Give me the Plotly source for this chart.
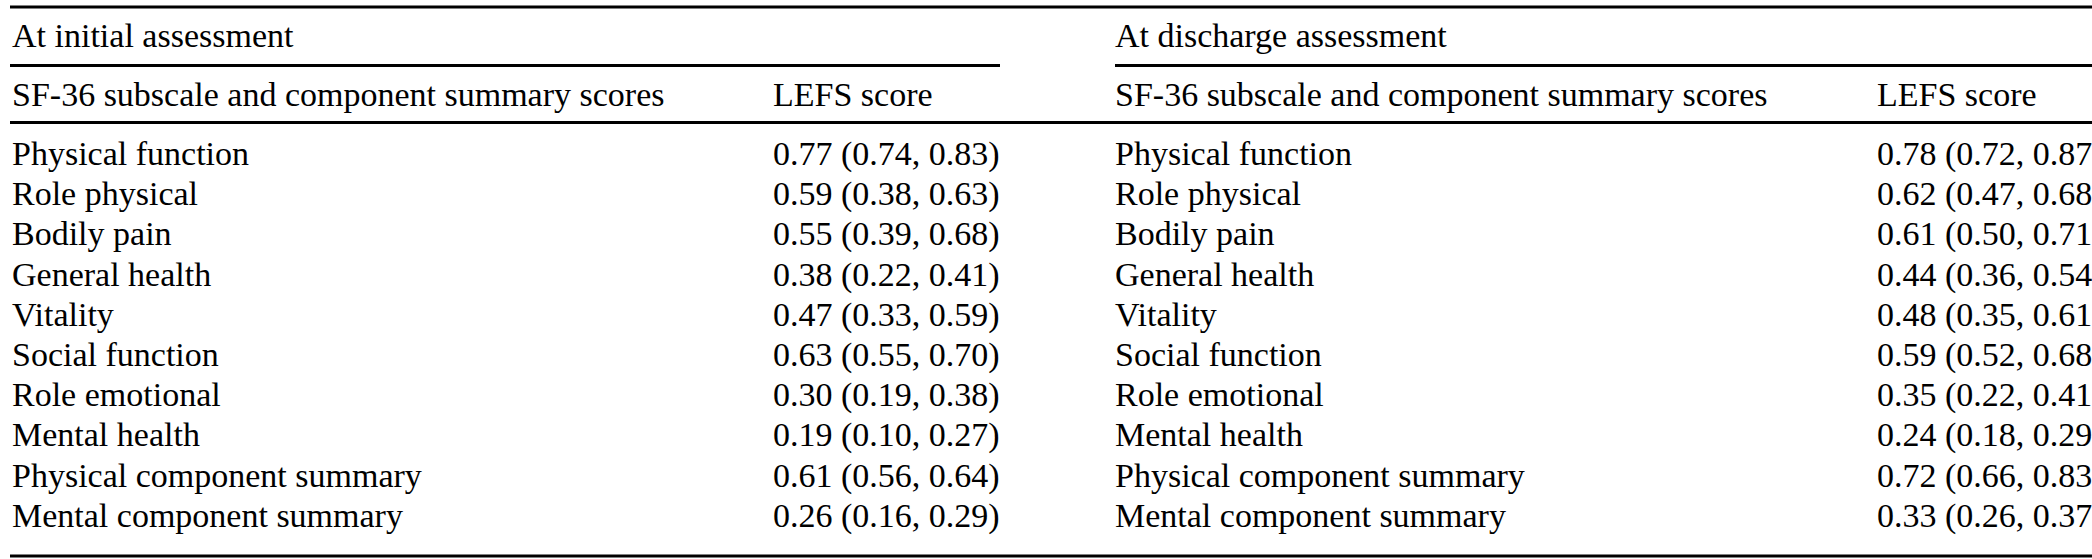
import plotly.graph_objects as go

# ---- table content -------------------------------------------------------
group_titles = ["At initial assessment", "At discharge assessment"]
col_headers = ["SF-36 subscale and component summary scores", "LEFS score"]

subscales = [
    "Physical function",
    "Role physical",
    "Bodily pain",
    "General health",
    "Vitality",
    "Social function",
    "Role emotional",
    "Mental health",
    "Physical component summary",
    "Mental component summary",
]

initial_r = [0.77, 0.59, 0.55, 0.38, 0.47, 0.63, 0.30, 0.19, 0.61, 0.26]
initial_lo = [0.74, 0.38, 0.39, 0.22, 0.33, 0.55, 0.19, 0.10, 0.56, 0.16]
initial_hi = [0.83, 0.63, 0.68, 0.41, 0.59, 0.70, 0.38, 0.27, 0.64, 0.29]

discharge_r = [0.78, 0.62, 0.61, 0.44, 0.48, 0.59, 0.35, 0.24, 0.72, 0.33]
discharge_lo = [0.72, 0.47, 0.50, 0.36, 0.35, 0.52, 0.22, 0.18, 0.66, 0.26]
discharge_hi = [0.87, 0.68, 0.71, 0.54, 0.61, 0.68, 0.41, 0.29, 0.83, 0.37]

# ---- geometry (axis units are page pixels, y grows downwards) ------------
W, H = 2092, 559
FONT = {"family": "Liberation Serif, Times New Roman, serif", "size": 34, "color": "#000000"}

x_label = [12, 1115]
x_val = [773, 1877]
# y values are text centres; plotly puts the baseline ~0.25em below them
y_group, y_head = 38.5, 97
y_row0, row_step = 156.5, 40.2
row_y = [y_row0 + i * row_step for i in range(len(subscales))]


def fmt(r, lo, hi):
    return f"{r:.2f} ({lo:.2f}, {hi:.2f})"


initial_txt = [fmt(*v) for v in zip(initial_r, initial_lo, initial_hi)]
discharge_txt = [fmt(*v) for v in zip(discharge_r, discharge_lo, discharge_hi)]


def text_trace(xs, ys, texts):
    return go.Scatter(
        x=xs,
        y=ys,
        text=texts,
        mode="text",
        textposition="middle right",
        textfont=FONT,
        hoverinfo="skip",
        showlegend=False,
        cliponaxis=False,
    )


fig = go.Figure()
for block, values in enumerate([initial_txt, discharge_txt]):
    fig.add_trace(text_trace([x_label[block]], [y_group], [group_titles[block]]))
    fig.add_trace(
        text_trace([x_label[block], x_val[block]], [y_head, y_head], col_headers)
    )
    fig.add_trace(text_trace([x_label[block]] * len(subscales), row_y, subscales))
    fig.add_trace(text_trace([x_val[block]] * len(values), row_y, values))

# horizontal rules of the table
rules = [
    (10, W, 7),
    (10, 1000, 65.5),
    (1115, W, 65.5),
    (10, W, 122.5),
    (10, W, 556),
]
for x0, x1, y in rules:
    fig.add_shape(
        type="line", x0=x0, x1=x1, y0=y, y1=y,
        xref="x", yref="y", line={"color": "#000000", "width": 3},
    )

fig.update_layout(
    width=W,
    height=H,
    margin={"l": 0, "r": 0, "t": 0, "b": 0},
    paper_bgcolor="#FFFFFF",
    plot_bgcolor="#FFFFFF",
    xaxis={"range": [0, W], "visible": False, "fixedrange": True},
    yaxis={"range": [H, 0], "visible": False, "fixedrange": True},
)

# drop the default 8px body margin so the figure fills the window exactly
fig.write_html(
    "out.html",
    config={"displayModeBar": False, "staticPlot": True},
    post_script="document.body.style.margin='0';document.body.style.overflow='hidden';",
)
